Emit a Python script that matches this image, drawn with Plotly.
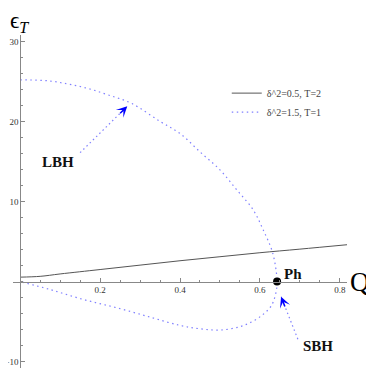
import plotly.graph_objects as go

# solid curve: delta^2=0.5, T=2
q_solid = [0.0, 0.05, 0.1, 0.2, 0.3, 0.4, 0.5, 0.6, 0.7, 0.818]
e_solid = [0.55, 0.65, 0.95, 1.5, 2.05, 2.6, 3.1, 3.6, 4.05, 4.6]

# dotted curve: delta^2=1.5, T=1 (upper branch down to Ph, then lower branch back to 0)
q_dot = [0.0, 0.071, 0.121, 0.171, 0.221, 0.279, 0.35, 0.40, 0.45, 0.50, 0.542, 0.583, 0.608,
         0.632, 0.643, 0.640, 0.633, 0.625, 0.608, 0.583, 0.55, 0.50, 0.45, 0.40, 0.325,
         0.242, 0.158, 0.075, 0.0]
e_dot = [25.2, 25.07, 24.66, 24.1, 23.3, 22.25, 20.0, 18.5, 16.2, 13.95, 11.46, 8.97, 6.48,
         3.57, 0.0, -1.41, -2.58, -3.28, -4.1, -4.94, -5.64, -6.06, -5.9, -5.48, -4.44,
         -3.28, -2.24, -1.0, 0.0]

ph_q, ph_e = [0.643], [0.0]

x_ticks = [0.2, 0.4, 0.6, 0.8]
y_ticks = [-10, 10, 20, 30]

xr = [-0.018, 0.818]
yr = [-10.8, 30.8]

serif = "Liberation Serif"
blue = "#8080ff"

fig = go.Figure()
fig.add_trace(go.Scatter(x=q_solid, y=e_solid, mode="lines", name="\u03b4^2=0.5, T=2",
                         line=dict(color="#555555", width=1, shape="spline")))
fig.add_trace(go.Scatter(x=q_dot, y=e_dot, mode="lines", name="\u03b4^2=1.5, T=1",
                         line=dict(color=blue, width=1.2, dash="1.5px,3.5px", shape="spline")))
fig.add_trace(go.Scatter(x=ph_q, y=ph_e, mode="markers", showlegend=False,
                         marker=dict(color="black", size=8)))

# arrows: dotted shaft + solid head
def arrow(tail, head, label, label_pos, ax, ay):
    fig.add_shape(type="line", x0=tail[0], y0=tail[1], x1=head[0], y1=head[1], xref="x", yref="y",
                  line=dict(color=blue, width=1.2, dash="1.5px,3px"))
    fig.add_annotation(x=head[0], y=head[1], ax=ax, ay=ay, showarrow=True, arrowhead=3,
                       arrowsize=1.2, arrowwidth=1.5, arrowcolor="#0000ff", text="")
    fig.add_annotation(x=label_pos[0], y=label_pos[1], text="<b>" + label + "</b>", showarrow=False,
                       font=dict(family=serif, size=15, color="#111111"))

arrow((0.15, 16.1), (0.268, 21.9), "LBH", (0.095, 14.9), -8.6, 8.4)
arrow((0.695, -7.2), (0.653, -1.9), "SBH", (0.745, -8.1), 4.4, 11.2)

fig.add_annotation(x=0.6825, y=0.9, text="<b>Ph</b>", showarrow=False,
                   font=dict(family=serif, size=15, color="#111111"))
fig.add_annotation(x=1.005, xref="paper", y=0, yref="y", xanchor="left", yanchor="middle",
                   text="Q", showarrow=False, borderpad=0,
                   font=dict(family=serif, size=27, color="black"))
fig.add_annotation(x=-0.012, xref="paper", y=1.038, yref="paper", xanchor="left", yanchor="middle",
                   text="\u03f5<sub><i>T</i></sub>", showarrow=False, borderpad=0,
                   font=dict(family=serif, size=23, color="black"))

fig.update_xaxes(range=xr, tickvals=x_ticks, showgrid=False, zeroline=False, automargin=False,
                 showline=True, linecolor="#888888", linewidth=1,
                 anchor="free", position=(0 - yr[0]) / (yr[1] - yr[0]),
                 ticks="inside", ticklen=4, tickcolor="#888888",
                 minor=dict(dtick=0.05, tick0=0, ticks="inside", ticklen=2, tickcolor="#888888"),
                 tickfont=dict(family=serif, size=9, color="#333333"))
fig.update_yaxes(range=yr, tickvals=y_ticks, showgrid=False, zeroline=False, automargin=False,
                 showline=True, linecolor="#888888", linewidth=1,
                 anchor="free", position=(0 - xr[0]) / (xr[1] - xr[0]),
                 ticks="inside", ticklen=4, tickcolor="#888888",
                 minor=dict(dtick=2, tick0=0, ticks="inside", ticklen=2, tickcolor="#888888"),
                 tickfont=dict(family=serif, size=9, color="#333333"))

# page body has an 8px margin, so the figure is a bit smaller than the window
fig.update_layout(width=366, height=362, margin=dict(l=5, r=27, t=27, b=2),
                  plot_bgcolor="white", paper_bgcolor="white",
                  legend=dict(x=0.64, y=0.869, xanchor="left", yanchor="top",
                              bgcolor="rgba(0,0,0,0)",
                              font=dict(family=serif, size=10, color="#444444")))
fig.write_html("out.html")
